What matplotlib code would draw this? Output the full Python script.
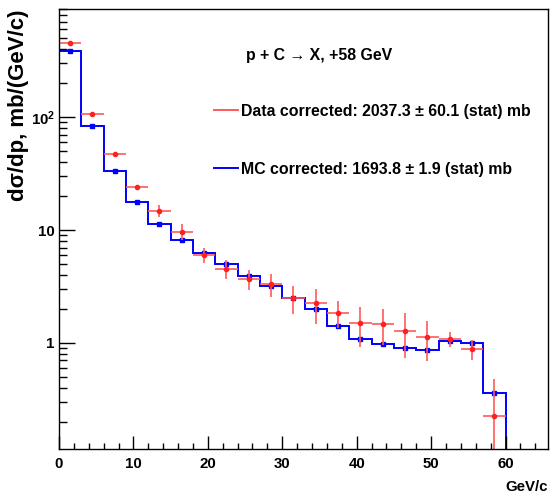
"""Momentum spectrum, p + C -> X at +58 GeV: data vs MC."""

import matplotlib
import numpy as np

matplotlib.use("Agg")
from matplotlib import font_manager  # noqa: E402
from matplotlib import pyplot as plt  # noqa: E402
from matplotlib.lines import Line2D  # noqa: E402
from matplotlib.ticker import FixedLocator, FuncFormatter, MultipleLocator  # noqa: E402

# bins of 3 GeV/c from 0 to 66 (MC is empty above 60)
BIN_WIDTH = 3.0
BIN_EDGES = np.arange(0.0, 66.0 + BIN_WIDTH, BIN_WIDTH)

DATA_VALUES = [449, 107, 47.1, 24.0, 14.8, 9.66, 5.97, 4.52, 3.68, 3.33,
               2.52, 2.25, 1.85, 1.50, 1.48, 1.28, 1.13, 1.08, 0.88, 0.227]
DATA_ERRORS = [12, 3.0, 1.5, 0.8, 1.75, 1.57, 0.90, 0.87, 0.74, 0.78,
               0.70, 0.78, 0.50, 0.58, 0.53, 0.55, 0.44, 0.16, 0.18, 0.25]
MC_VALUES = [386, 83.2, 33.3, 17.7, 11.4, 8.11, 6.26, 4.97, 3.92, 3.19,
             2.50, 2.0, 1.42, 1.09, 0.97, 0.90, 0.87, 1.05, 1.0, 0.363,
             0.0, 0.0]

TITLE = "p + C \u2192 X, +58 GeV"
DATA_LABEL = "Data corrected: 2037.3 \u00b1 60.1 (stat) mb"
MC_LABEL = "MC corrected: 1693.8 \u00b1 1.9 (stat) mb"

RED = "#ff2020"
RED_LIGHT = "#ff5a5a"
BLUE = "#0000ff"

installed = {f.name for f in font_manager.fontManager.ttflist}
if "Liberation Sans Narrow" in installed:
    FACE = "Liberation Sans Narrow"
    SCALE = 1.0
else:
    FACE = "Liberation Sans"
    SCALE = 0.83

plt.rcParams["font.family"] = [FACE, "DejaVu Sans"]
plt.rcParams["font.weight"] = "bold"
plt.rcParams["mathtext.fontset"] = "custom"
plt.rcParams["mathtext.rm"] = f"{FACE}:bold"
plt.rcParams["mathtext.it"] = f"{FACE}:bold"
plt.rcParams["mathtext.bf"] = f"{FACE}:bold"

TICK_SIZE = 13.0 * SCALE
TEXT_SIZE = 13.8 * SCALE
YLABEL_SIZE = 19.3 * SCALE

fig = plt.figure(figsize=(5.51, 4.97), dpi=100)
ax = fig.add_axes([0.107, 0.0966, 0.8876, 0.8846])

centers = BIN_EDGES[:-1] + BIN_WIDTH / 2
n_data = len(DATA_VALUES)

ax.stairs(MC_VALUES, BIN_EDGES, baseline=None, color=BLUE, linewidth=1.4)
ax.plot(centers[:n_data], MC_VALUES[:n_data], "s", color=BLUE, markersize=2.6)

ax.errorbar(centers[:n_data], DATA_VALUES, xerr=BIN_WIDTH / 2, yerr=DATA_ERRORS,
            fmt="o", color=RED, ecolor=RED_LIGHT, elinewidth=1.2,
            markersize=3.0, capsize=0)

ax.set_yscale("log")
ax.set_xlim(0, 65.7)
ax.set_ylim(0.115, 900)

ax.xaxis.set_major_locator(MultipleLocator(10))
ax.xaxis.set_minor_locator(MultipleLocator(2))
ax.yaxis.set_major_locator(FixedLocator([1, 10, 100]))
minor_y = [m * 10.0 ** e for e in (-1, 0, 1, 2) for m in range(2, 10)]
ax.yaxis.set_minor_locator(FixedLocator(minor_y))


def _y_label(value, _pos):
    if value >= 100:
        return r"$10^{%d}$" % round(np.log10(value))
    return f"{value:g}"


ax.yaxis.set_major_formatter(FuncFormatter(_y_label))

ax.tick_params(axis="both", which="both", direction="in", top=False, right=False,
               labelsize=TICK_SIZE, width=1.0)
ax.tick_params(axis="x", which="major", length=9.5, pad=6)
ax.tick_params(axis="x", which="minor", length=4.5)
ax.tick_params(axis="y", which="major", length=11.5, pad=3)
ax.tick_params(axis="y", which="minor", length=5.8)
for label in ax.get_xticklabels() + ax.get_yticklabels():
    label.set_fontweight("bold")
for spine in ax.spines.values():
    spine.set_linewidth(1.0)

ax.set_xlabel("GeV/c", fontsize=TICK_SIZE, fontweight="bold", loc="right", labelpad=6)
ax.set_ylabel("d\u03c3/dp, mb/(GeV/c)", fontsize=YLABEL_SIZE, fontweight="bold",
              loc="top")
ax.yaxis.set_label_coords(-0.062, 1.0)

ax.text(0.383, 0.895, TITLE, transform=ax.transAxes, fontsize=TEXT_SIZE,
        fontweight="bold", ha="left", va="center")

handles = [Line2D([], [], color=RED_LIGHT, linewidth=1.4),
           Line2D([], [], color=BLUE, linewidth=1.4)]
ax.legend(handles, [DATA_LABEL, MC_LABEL], loc="upper left",
          bbox_to_anchor=(0.305, 0.80), frameon=False, fontsize=TEXT_SIZE,
          handlelength=1.5, handletextpad=0.15, labelspacing=2.7,
          borderaxespad=0)

fig.savefig("out.png", dpi=100)
